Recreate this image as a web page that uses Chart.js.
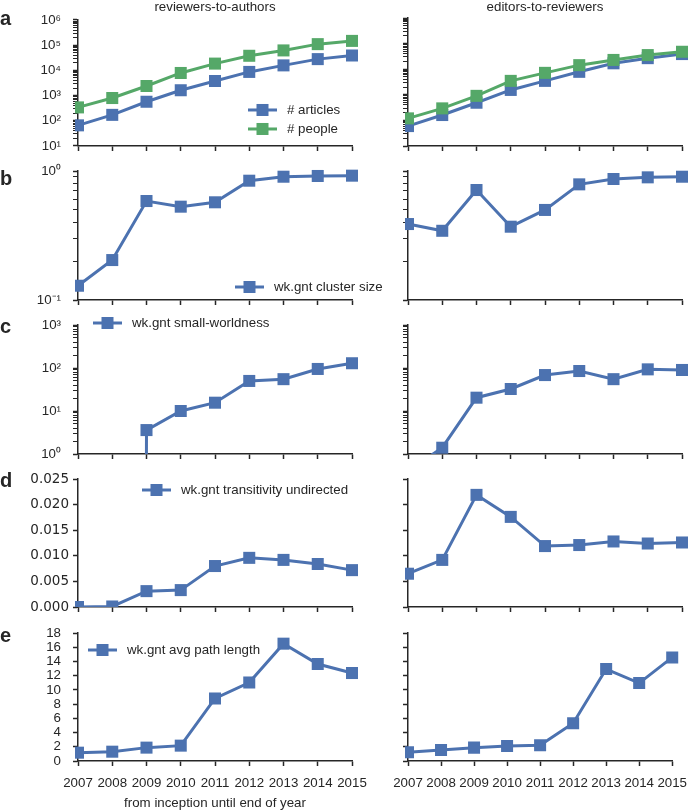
<!DOCTYPE html>
<html>
<head>
<meta charset="utf-8">
<script src="https://cdn.jsdelivr.net/npm/chart.js"></script>
<style>
  body { margin: 0; background: #fff; }
  #wrap { position: relative; width: 696px; height: 811px; }
  #wrap canvas { position: absolute; left: 0; top: 0; }
</style>
</head>
<body>
<div id="wrap"></div>
<script>
const years = ['2007', '2008', '2009', '2010', '2011', '2012', '2013', '2014', '2015']

// a: network size
const raArticles = [66, 172, 570, 1630, 3800, 8700, 15800, 28000, 39000]
const raPeople = [340, 800, 2400, 7900, 18600, 38000, 62000, 110000, 148000]
const erArticles = [60, 162, 490, 1550, 3500, 7900, 17000, 27000, 39000]
const erPeople = [120, 295, 910, 3500, 7200, 14400, 23000, 35600, 48000]
// b: cluster size
const raCluster = [0.129, 0.204, 0.585, 0.529, 0.572, 0.841, 0.903, 0.915, 0.92]
const erCluster = [0.388, 0.344, 0.712, 0.370, 0.499, 0.788, 0.867, 0.893, 0.903]
// c: small-worldness (0 = not defined, clipped off the log axis)
const raSmallWorld = [0, 0, 3.6, 10, 15.6, 50, 55, 95, 129]
const erSmallWorld = [0.4, 1.4, 20.4, 32.5, 68.5, 85, 55, 93, 90]
// d: transitivity
const raTransitivity = [0, 0.0001, 0.0031, 0.0033, 0.0080, 0.0096, 0.0092, 0.0084, 0.0072]
const erTransitivity = [0.0065, 0.0092, 0.0219, 0.0176, 0.0119, 0.0121, 0.0128, 0.0124, 0.0126]
// e: avg path length
const raPathLength = [1.17, 1.31, 1.88, 2.16, 8.79, 11.04, 16.5, 13.64, 12.37]
const erPathLength = [1.22, 1.55, 1.88, 2.12, 2.21, 5.32, 12.93, 10.96, 14.57]

// axis ranges / tick labels
const decadesA = [1, 6]
const decadesB = [-1, 0]
const decadesC = [0, 3]
const ticksD = ['0.000', '0.005', '0.010', '0.015', '0.020', '0.025']
const ticksE = [0, 2, 4, 6, 8, 10, 12, 14, 16, 18]

const W = 696, H = 811
const BLUE = '#4c72b0', GREEN = '#55a868', INK = '#262626'
const FAMILY = '"Liberation Sans", Arial, sans-serif'
const FONT = { family: FAMILY, size: 13.3 }
const FONT_D = { family: '"DejaVu Sans", sans-serif', size: 13.5 }
const LOG_CLIP = 1e-300 // like matplotlib: non-positive values fall far below the axis

const cols = [
  { left: 78, right: 352, axisW: 60 },
  { left: 408, right: 682, axisW: 20 }
]
const rows = [
  { top: 18, bottom: 146 },
  { top: 171, bottom: 300 },
  { top: 325, bottom: 454 },
  { top: 479, bottom: 607 },
  { top: 633, bottom: 761 }
]

const sup = n => String(n).split('').map(c => c === '-' ? '⁻' : '⁰¹²³⁴⁵⁶⁷⁸⁹'[+c]).join('')
const isDecade = v => Math.abs(Math.log10(v) - Math.round(Math.log10(v))) < 1e-9

const insideLegend = {
  id: 'insideLegend',
  afterDatasetsDraw(chart, args, opts) {
    if (!opts.show) return
    const { ctx, chartArea } = chart
    ctx.save()
    chart.data.datasets.forEach((ds, i) => {
      const x = chartArea.left + opts.x
      const y = chartArea.top + opts.y + i * 19
      ctx.strokeStyle = ds.borderColor
      ctx.lineWidth = 3
      ctx.beginPath()
      ctx.moveTo(x, y)
      ctx.lineTo(x + 29, y)
      ctx.stroke()
      ctx.fillStyle = ds.borderColor
      ctx.fillRect(x + 14.5 - 6, y - 6, 12, 12)
      ctx.fillStyle = INK
      ctx.font = FONT.size + 'px ' + FAMILY
      ctx.textBaseline = 'middle'
      ctx.textAlign = 'left'
      ctx.fillText(ds.label, x + 39, y)
    })
    ctx.restore()
  }
}

const notes = {
  id: 'notes',
  afterDraw(chart, args, opts) {
    if (!opts.items) return
    const ctx = chart.ctx
    ctx.save()
    ctx.fillStyle = INK
    ctx.textBaseline = 'alphabetic'
    opts.items.forEach(n => {
      ctx.font = n.font
      ctx.textAlign = n.align || 'left'
      ctx.fillText(n.text, n.x, n.y)
    })
    ctx.restore()
  }
}

const line = (label, data, color, isLog) => ({
  label: label,
  data: isLog ? data.map(v => v > 0 ? v : LOG_CLIP) : data,
  borderColor: color,
  backgroundColor: color,
  borderWidth: 3,
  pointStyle: 'rect',
  pointRadius: 8.5,
  pointHoverRadius: 8.5,
  pointBorderWidth: 0,
  clip: { left: 3, top: 8, right: 8, bottom: 0 }
})

const logAxis = (decades, col, labelPad) => {
  const values = []
  for (let e = decades[0]; e < decades[1]; e++) {
    for (let k = 1; k < 10; k++) values.push(k * Math.pow(10, e))
  }
  values.push(Math.pow(10, decades[1]))
  return {
    type: 'logarithmic',
    min: Math.pow(10, decades[0]),
    max: Math.pow(10, decades[1]),
    afterBuildTicks: s => { s.ticks = values.map(v => ({ value: v })) },
    afterFit: s => { s.width = cols[col].axisW },
    ticks: {
      display: col === 0, autoSkip: false, padding: labelPad, color: INK, font: FONT,
      callback: v => isDecade(v) ? '10' + sup(Math.round(Math.log10(v))) : ''
    },
    grid: {
      drawOnChartArea: false, tickLength: 5, tickColor: INK,
      tickWidth: c => (c.tick && isDecade(c.tick.value)) ? 1.5 : 1
    },
    border: { color: INK, width: 1.5 }
  }
}

const linAxis = (labels, col, labelPad, font) => ({
  type: 'linear',
  min: +labels[0],
  max: +labels[labels.length - 1],
  afterBuildTicks: s => { s.ticks = labels.map(v => ({ value: +v })) },
  afterFit: s => { s.width = cols[col].axisW },
  ticks: {
    display: col === 0, autoSkip: false, padding: labelPad, color: INK, font: font || FONT,
    callback: (v, i) => String(labels[i])
  },
  grid: { drawOnChartArea: false, tickLength: 5, tickColor: INK, tickWidth: 1.5 },
  border: { color: INK, width: 1.5 }
})

const xAxis = (withLabels, title) => ({
  type: 'category',
  offset: false,
  afterFit: s => { s.height = withLabels ? 50 : 30 },
  ticks: { display: withLabels, autoSkip: false, maxRotation: 0, padding: 9, color: INK, font: FONT },
  grid: { drawOnChartArea: false, offset: false, tickLength: 5, tickColor: INK, tickWidth: 1.5 },
  border: { color: INK, width: 1.5 },
  title: { display: !!title, text: title, color: INK, font: FONT, padding: { top: 0, bottom: 0 } }
})

const makePanel = (row, col, datasets, yScale, legendPos, noteItems) => {
  const canvas = document.createElement('canvas')
  canvas.width = W
  canvas.height = H
  document.getElementById('wrap').appendChild(canvas)
  const last = row === rows.length - 1
  const xh = last ? 50 : 30
  new Chart(canvas, {
    type: 'line',
    data: { labels: years, datasets: datasets },
    options: {
      responsive: false,
      animation: false,
      events: [],
      layout: {
        padding: {
          left: cols[col].left - cols[col].axisW,
          right: W - cols[col].right,
          top: rows[row].top,
          bottom: H - rows[row].bottom - xh
        }
      },
      scales: {
        x: xAxis(last, last && col === 0 ? 'from inception until end of year' : ''),
        y: yScale
      },
      plugins: {
        legend: { display: false },
        tooltip: { enabled: false },
        insideLegend: legendPos ? { show: true, x: legendPos[0], y: legendPos[1] } : { show: false },
        notes: { items: noteItems || null }
      }
    },
    plugins: [insideLegend, notes]
  })
}

const letter = (t, y) => ({ text: t, x: 0, y: y, font: 'bold 20px ' + FAMILY })
const title = (t, x) => ({ text: t, x: x, y: 11, font: '13.3px ' + FAMILY, align: 'center' })

// row a
makePanel(0, 0, [
  Object.assign(line('# articles', raArticles, BLUE, true), { order: 1 }),
  Object.assign(line('# people', raPeople, GREEN, true), { order: 0 })
], logAxis(decadesA, 0, 12), [170, 90], [letter('a', 25), title('reviewers-to-authors', 215)])
makePanel(0, 1, [
  Object.assign(line('# articles', erArticles, BLUE, true), { order: 1 }),
  Object.assign(line('# people', erPeople, GREEN, true), { order: 0 })
], logAxis(decadesA, 1, 12), null, [title('editors-to-reviewers', 545)])

// row b
makePanel(1, 0, [line('wk.gnt cluster size', raCluster, BLUE, true)],
  logAxis(decadesB, 0, 12), [157, 116], [letter('b', 185)])
makePanel(1, 1, [line('wk.gnt cluster size', erCluster, BLUE, true)],
  logAxis(decadesB, 1, 12), null)

// row c
makePanel(2, 0, [line('wk.gnt small-worldness', raSmallWorld, BLUE, true)],
  logAxis(decadesC, 0, 12), [15, -2], [letter('c', 333)])
makePanel(2, 1, [line('wk.gnt small-worldness', erSmallWorld, BLUE, true)],
  logAxis(decadesC, 1, 12), null)

// row d
makePanel(3, 0, [line('wk.gnt transitivity undirected', raTransitivity, BLUE, false)],
  linAxis(ticksD, 0, 4, FONT_D), [64, 11], [letter('d', 487)])
makePanel(3, 1, [line('wk.gnt transitivity undirected', erTransitivity, BLUE, false)],
  linAxis(ticksD, 1, 4), null)

// row e
makePanel(4, 0, [line('wk.gnt avg path length', raPathLength, BLUE, false)],
  linAxis(ticksE, 0, 12), [10, 17], [letter('e', 642)])
makePanel(4, 1, [line('wk.gnt avg path length', erPathLength, BLUE, false)],
  linAxis(ticksE, 1, 12), null)
</script>
</body>
</html>
